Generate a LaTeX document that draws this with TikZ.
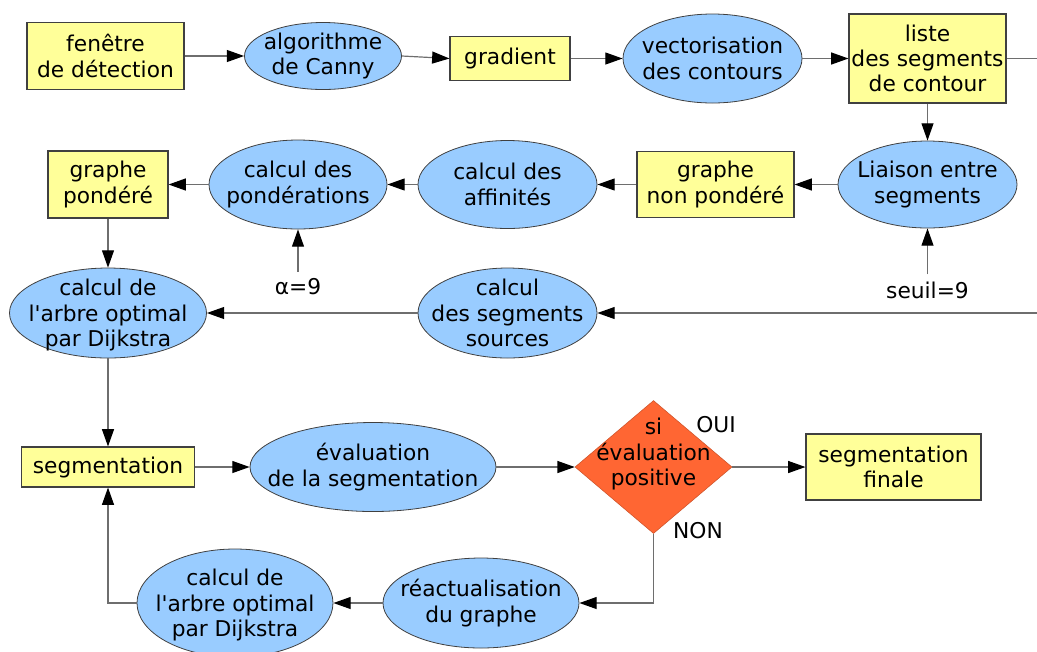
\documentclass[tikz,border=0pt]{standalone}
\usepackage{fontspec}
\setmainfont{DejaVu Sans}[Ligatures=TeXOff]
\usetikzlibrary{shapes.geometric,arrows.meta}
\definecolor{yfill}{HTML}{FFFF99}
\definecolor{bfill}{HTML}{99CCFF}
\definecolor{ofill}{HTML}{FF6633}
\definecolor{edgec}{HTML}{404040}
\definecolor{linec}{HTML}{6E6E6E}
\tikzset{
  ybox/.style 2 args={draw=edgec, line width=0.8pt, fill=yfill, rectangle, inner sep=0pt,
    minimum width=#1*0.75pt, minimum height=#2*0.75pt, align=center},
  bell/.style 2 args={draw=edgec, line width=0.6pt, fill=bfill, ellipse, inner sep=0pt,
    minimum width=#1*0.75pt, minimum height=#2*0.75pt},
  odia/.style 2 args={fill=ofill, draw=ofill!80!black, line width=0.4pt, diamond, inner sep=0pt,
    minimum width=#1*0.75pt, minimum height=#2*0.75pt},
  txt/.style={align=center, inner sep=0pt},
  conn/.style={draw=linec, line width=0.9pt, -{Triangle[length=13pt,width=9pt,color=black]}},
  plain/.style={draw=linec, line width=0.9pt},
}
\begin{document}
\begin{tikzpicture}[x=0.75pt, y=-0.75pt, font=\fontsize{16.3}{19}\selectfont]
\useasboundingbox (0,0) rectangle (1037,651);
% row 1
\node[ybox={157}{67}] (fen) at (105.5,56) {fenêtre\\de détection};
\node[bell={157}{67}] (alg) at (323,56) {};
\node[txt] (algT) at (alg) {algorithme\\de Canny};
\node[ybox={120}{44}] (grad) at (510,58.5) {gradient};
\node[bell={179}{89}] (vec) at (712.5,58.5) {};
\node[txt] (vecT) at (vec) {vectorisation\\des contours};
\node[ybox={157}{89}] (liste) at (927.5,58.5) {liste\\des segments\\de contour};
\coordinate (exit1) at (1037,58.5);
% row 2
\node[bell={179}{87}] (liai) at (927.5,184.5) {};
\node[txt] (liaiT) at (liai) {Liaison entre\\segments};
\node[ybox={157}{66}] (gnp) at (715.5,184.5) {graphe\\non pondéré};
\node[bell={179}{88}] (aff) at (507.5,184.5) {};
\node[txt] (affT) at (aff) {calcul des\\affinités};
\node[bell={178}{89}] (pond) at (298,184.5) {};
\node[txt] (pondT) at (pond) {calcul des\\pondérations};
\node[ybox={120}{67}] (gp) at (108,184.5) {graphe\\pondéré};
\node[txt] (alpha) at (298,287) {α=9};
\node[txt] (seuil) at (927.5,290) {seuil=9};
% row 3
\node[bell={197}{90}] (arb1) at (108,313) {};
\node[txt] (arb1T) at (108,315) {calcul de\\l'arbre optimal\\par Dijkstra};
\node[bell={179}{90}] (src) at (507.5,313) {};
\node[txt] (srcT) at (src) {calcul\\des segments\\sources};
\coordinate (ent3) at (1037,313);
% row 4
\node[ybox={173}{40}] (seg) at (108,467) {segmentation};
\node[bell={246}{89}] (eval) at (373,467) {};
\node[txt] (evalT) at (eval) {évaluation\\de la segmentation};
\node[odia={157}{133}] (dia) at (653.5,467) {};
\node[txt] (diaT) at (653.5,454) {si\\évaluation\\positive};
\node[ybox={175}{66}] (fin) at (893.5,467) {segmentation\\finale};
\node[txt] (oui) at (716,425) {OUI};
\node[txt] (non) at (698,531) {NON};
% row 5
\node[bell={196}{90}] (react) at (481,603) {};
\node[txt] (reactT) at (react) {réactualisation\\du graphe};
\node[bell={196}{108}] (arb2) at (235,603) {};
\node[txt] (arb2T) at (235,605) {calcul de\\l'arbre optimal\\par Dijkstra};
% connectors
\draw[conn] (fen.east) -- (alg.west);
\draw[conn] (alg.east) -- (grad.west);
\draw[conn] (grad.east) -- (vec.west);
\draw[conn] (vec.east) -- (liste.west);
\draw[plain] (liste.east) -- (exit1);
\draw[conn] (liste.south) -- (liai.north);
\draw[conn] (liai.west) -- (gnp.east);
\draw[conn] (gnp.west) -- (aff.east);
\draw[conn] (aff.west) -- (pond.east);
\draw[conn] (pond.west) -- (gp.east);
\draw[conn] (alpha.north) ++(0,-7) -- (pond.south);
\draw[conn] (seuil.north) ++(0,-7) -- (liai.south);
\draw[conn] (gp.south) -- (arb1.north);
\draw[conn] (ent3) -- (src.east);
\draw[conn] (src.west) -- (arb1.east);
\draw[conn] (arb1.south) -- (seg.north);
\draw[conn] (seg.east) -- (eval.west);
\draw[conn] (eval.east) -- (dia.west);
\draw[conn] (dia.east) -- (fin.west);
\draw[conn] (dia.south) |- (react.east);
\draw[conn] (react.west) -- (arb2.east);
\draw[conn] (arb2.west) -| (seg.south);
\end{tikzpicture}
\end{document}
